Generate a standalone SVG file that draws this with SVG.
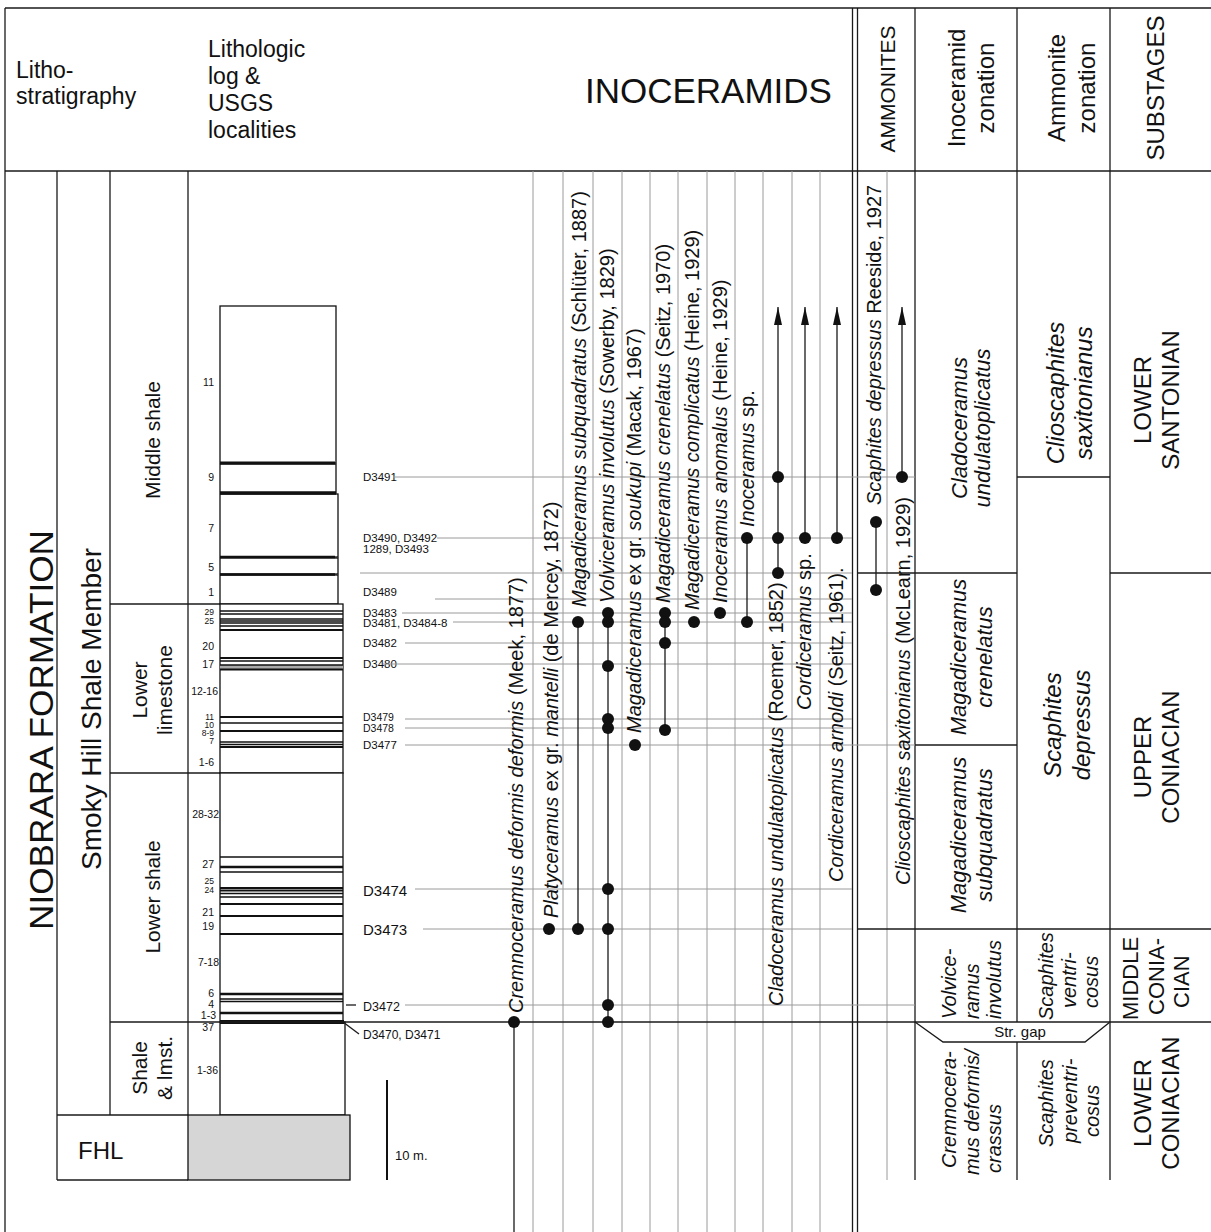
<svg xmlns="http://www.w3.org/2000/svg" width="1211" height="1232" viewBox="0 0 1211 1232">
<style>
.t{font-family:"Liberation Sans",Arial,sans-serif;fill:#111}
.i{font-style:italic}
.g{stroke:#9a9a9a;stroke-width:1;fill:none}
.k{stroke:#1a1a1a;stroke-width:1.3;fill:none}
.b{stroke:#111;fill:none}
.lg{fill:#fff;stroke:#111;stroke-width:1.3}
.d{fill:#111}
.sp{font-size:20px}
.num{font-size:10.5px;text-anchor:end}
.sm{font-size:8.5px}
.loc{font-size:11.5px}
.m{text-anchor:middle}
</style>
<defs>
<marker id="arr" viewBox="0 0 18 8" refX="18" refY="4" markerWidth="18" markerHeight="8" markerUnits="userSpaceOnUse" orient="auto">
<path d="M0,0 L18,4 L0,8 z" fill="#111"/>
</marker>
</defs>
<rect width="1211" height="1232" fill="#fff"/>

<g id="frame">
<line class="k" x1="5" y1="8" x2="1211" y2="8"/>
<line class="k" x1="5" y1="8" x2="5" y2="1232"/>
<line class="k" x1="5" y1="171" x2="1211" y2="171"/>
<line class="k" x1="852.5" y1="8" x2="852.5" y2="1232"/>
<line class="k" x1="857.5" y1="8" x2="857.5" y2="1232"/>
<line class="k" x1="915" y1="8" x2="915" y2="1180"/>
<line class="k" x1="1017" y1="8" x2="1017" y2="1022"/>
<line class="k" x1="1017" y1="1042" x2="1017" y2="1180"/>
<line class="k" x1="1110" y1="8" x2="1110" y2="1180"/>
<line class="k" x1="57" y1="171" x2="57" y2="1180"/>
<line class="k" x1="110" y1="171" x2="110" y2="1115"/>
<line class="k" x1="188" y1="171" x2="188" y2="1115"/>
<line class="k" x1="110" y1="604" x2="220" y2="604"/>
<line class="k" x1="110" y1="773" x2="220" y2="773"/>
<line class="k" x1="57" y1="1115" x2="188" y2="1115"/>
<line class="k" x1="57" y1="1180" x2="188" y2="1180"/>
</g>

<g id="header">
<text class="t" font-size="23" x="16" y="78">Litho-</text>
<text class="t" font-size="23" x="16" y="104">stratigraphy</text>
<text class="t" font-size="23" x="208" y="57">Lithologic</text>
<text class="t" font-size="23" x="208" y="84">log &amp;</text>
<text class="t" font-size="23" x="208" y="111">USGS</text>
<text class="t" font-size="23" x="208" y="138">localities</text>
<text class="t" font-size="35" x="585" y="103">INOCERAMIDS</text>
<text class="t m" font-size="21" transform="translate(895,89) rotate(-90)">AMMONITES</text>
<text class="t m" font-size="24" transform="translate(965,88) rotate(-90)">Inoceramid</text>
<text class="t m" font-size="24" transform="translate(994,88) rotate(-90)">zonation</text>
<text class="t m" font-size="24" transform="translate(1065,88) rotate(-90)">Ammonite</text>
<text class="t m" font-size="24" transform="translate(1095,88) rotate(-90)">zonation</text>
<text class="t m" font-size="24" transform="translate(1164,88) rotate(-90)">SUBSTAGES</text>
</g>

<g id="lithostratigraphy">
<text class="t m" font-size="33" transform="translate(53,730) rotate(-90)" textLength="400" lengthAdjust="spacingAndGlyphs">NIOBRARA FORMATION</text>
<text class="t m" font-size="27" transform="translate(101,709) rotate(-90)" textLength="322" lengthAdjust="spacingAndGlyphs">Smoky Hill Shale Member</text>
<text class="t m" font-size="21" transform="translate(160,440) rotate(-90)">Middle shale</text>
<text class="t m" font-size="21" transform="translate(147,690) rotate(-90)">Lower</text>
<text class="t m" font-size="21" transform="translate(172,690) rotate(-90)">limestone</text>
<text class="t m" font-size="21" transform="translate(160,897) rotate(-90)">Lower shale</text>
<text class="t m" font-size="21" transform="translate(147,1068) rotate(-90)">Shale</text>
<text class="t m" font-size="21" transform="translate(172,1068) rotate(-90)">&amp; lmst.</text>
<text class="t" font-size="24" x="78" y="1159">FHL</text>
</g>

<g id="log">
<rect class="lg" x="220" y="306" width="116" height="157"/>
<rect class="lg" x="220" y="464" width="116" height="29"/>
<rect class="lg" x="220" y="494" width="118" height="63"/>
<rect class="lg" x="220" y="558" width="118" height="16"/>
<rect class="lg" x="220" y="575" width="118" height="29"/>
<line class="b" stroke-width="3" x1="220" y1="463" x2="335" y2="463"/>
<line class="b" stroke-width="3.5" x1="220" y1="493" x2="336" y2="493"/>
<line class="b" stroke-width="2.5" x1="220" y1="557" x2="335" y2="557"/>
<line class="b" stroke-width="2.5" x1="220" y1="574.5" x2="335" y2="574.5"/>

<rect class="lg" x="220" y="604" width="123" height="169"/>
<rect x="220" y="665" width="123" height="4" fill="#aaa"/>
<g class="b" stroke-width="1.5">
<line x1="220" y1="611" x2="343" y2="611"/>
<line x1="220" y1="614" x2="343" y2="614"/>
<line x1="220" y1="619" x2="343" y2="619"/>
<line x1="220" y1="621" x2="343" y2="621"/>
<line x1="220" y1="623" x2="343" y2="623"/>
<line x1="220" y1="626" x2="343" y2="626"/>
<line x1="220" y1="630" x2="343" y2="630" stroke-width="2"/>
<line x1="220" y1="658" x2="343" y2="658" stroke-width="2"/>
<line x1="220" y1="661" x2="343" y2="661"/>
<line x1="220" y1="665" x2="343" y2="665"/>
<line x1="220" y1="669.5" x2="343" y2="669.5" stroke-width="2"/>
<line x1="220" y1="717" x2="343" y2="717" stroke-width="2"/>
<line x1="220" y1="723" x2="343" y2="723"/>
<line x1="220" y1="731" x2="343" y2="731" stroke-width="2"/>
<line x1="220" y1="742" x2="343" y2="742"/>
<line x1="220" y1="744.5" x2="343" y2="744.5"/>
<line x1="220" y1="747" x2="343" y2="747" stroke-width="2"/>
</g>

<rect class="lg" x="220" y="773" width="123" height="249"/>
<g class="b" stroke-width="1.5">
<line x1="220" y1="857" x2="343" y2="857"/>
<line x1="220" y1="867" x2="343" y2="867" stroke-width="2.5"/>
<line x1="220" y1="872" x2="343" y2="872"/>
<line x1="220" y1="888" x2="343" y2="888" stroke-width="2"/>
<line x1="220" y1="890.5" x2="343" y2="890.5" stroke-width="2"/>
<line x1="220" y1="893.5" x2="343" y2="893.5"/>
<line x1="220" y1="897" x2="343" y2="897"/>
<line x1="220" y1="904" x2="343" y2="904" stroke-width="2"/>
<line x1="220" y1="916" x2="343" y2="916" stroke-width="2"/>
<line x1="220" y1="934" x2="343" y2="934" stroke-width="2"/>
<line x1="220" y1="994" x2="343" y2="994" stroke-width="2.5"/>
<line x1="220" y1="999" x2="343" y2="999"/>
<line x1="220" y1="1001.5" x2="343" y2="1001.5"/>
<line x1="220" y1="1013" x2="343" y2="1013" stroke-width="2.5"/>
</g>
<rect class="lg" x="220" y="1022" width="125" height="93"/>
<line class="b" stroke-width="4" x1="220" y1="1022" x2="344" y2="1022"/>
<rect x="188" y="1115" width="162" height="65" fill="#d6d6d6" stroke="#111" stroke-width="1.3"/>

<text class="t num" font-size="12" x="214" y="386">11</text>
<text class="t num" font-size="12" x="214" y="481">9</text>
<text class="t num" font-size="12" x="214" y="532">7</text>
<text class="t num" font-size="12" x="214" y="571">5</text>
<text class="t num" font-size="12" x="214" y="596">1</text>
<text class="t num sm" x="214" y="614.5">29</text>
<text class="t num sm" x="214" y="623.5">25</text>
<text class="t num" x="214" y="650">20</text>
<text class="t num" x="214" y="668">17</text>
<text class="t num" x="218" y="695">12-16</text>
<text class="t num sm" x="214" y="720">11</text>
<text class="t num sm" x="214" y="728">10</text>
<text class="t num sm" x="214" y="736">8-9</text>
<text class="t num sm" x="214" y="744">7</text>
<text class="t num" x="214" y="766">1-6</text>
<text class="t num" x="219" y="818">28-32</text>
<text class="t num" x="214" y="868">27</text>
<text class="t num sm" x="214" y="884">25</text>
<text class="t num sm" x="214" y="893">24</text>
<text class="t num" x="214" y="916">21</text>
<text class="t num" x="214" y="930">19</text>
<text class="t num" font-size="12" x="219" y="966">7-18</text>
<text class="t num" font-size="11" x="214" y="997">6</text>
<text class="t num" font-size="11" x="214" y="1008">4</text>
<text class="t num" font-size="11" x="216" y="1019">1-3</text>
<text class="t num" font-size="11" x="214" y="1031">37</text>
<text class="t num" font-size="12" x="218" y="1074">1-36</text>

<line class="b" stroke-width="2" x1="387" y1="1080" x2="387" y2="1180"/>
<text class="t" font-size="13" x="395" y="1160">10 m.</text>
</g>

<g id="localities">
<text class="t loc" x="363" y="481">D3491</text>
<text class="t loc" x="363" y="542">D3490, D3492</text>
<text class="t loc" x="363" y="553">1289, D3493</text>
<text class="t loc" x="363" y="596">D3489</text>
<text class="t loc" x="363" y="617">D3483</text>
<text class="t loc" x="363" y="627">D3481, D3484-8</text>
<text class="t loc" x="363" y="647">D3482</text>
<text class="t loc" x="363" y="668">D3480</text>
<text class="t" font-size="10.5" x="363" y="721">D3479</text>
<text class="t" font-size="10.5" x="363" y="732">D3478</text>
<text class="t loc" x="363" y="749">D3477</text>
<text class="t" font-size="15" x="363" y="896">D3474</text>
<text class="t" font-size="15" x="363" y="935">D3473</text>
<text class="t" font-size="12.5" x="363" y="1011">D3472</text>
<text class="t" font-size="12" x="363" y="1039">D3470, D3471</text>
</g>

<g id="connectors">
<g class="g">
<line x1="533" y1="171" x2="533" y2="1232"/>
<line x1="563" y1="171" x2="563" y2="1232"/>
<line x1="593" y1="171" x2="593" y2="1232"/>
<line x1="622" y1="171" x2="622" y2="1232"/>
<line x1="650" y1="171" x2="650" y2="1232"/>
<line x1="678" y1="171" x2="678" y2="1232"/>
<line x1="707" y1="171" x2="707" y2="1232"/>
<line x1="735" y1="171" x2="735" y2="1232"/>
<line x1="763" y1="171" x2="763" y2="1232"/>
<line x1="792" y1="171" x2="792" y2="1232"/>
<line x1="820" y1="171" x2="820" y2="1232"/>
<line x1="887" y1="171" x2="887" y2="1180"/>
<line x1="393" y1="477" x2="915" y2="477"/>
<line x1="437" y1="538" x2="852" y2="538"/>
<line x1="360" y1="573" x2="852" y2="573"/>
<line x1="435" y1="599" x2="852" y2="599"/>
<line x1="402" y1="613" x2="852" y2="613"/>
<line x1="453" y1="622" x2="852" y2="622"/>
<line x1="405" y1="643" x2="852" y2="643"/>
<line x1="383" y1="664" x2="852" y2="664"/>
<line x1="405" y1="719" x2="852" y2="719"/>
<line x1="405" y1="728" x2="852" y2="728"/>
<line x1="405" y1="745" x2="915" y2="745"/>
<line x1="415" y1="889" x2="852" y2="889"/>
<line x1="423" y1="929" x2="852" y2="929"/>
<line x1="405" y1="1005" x2="915" y2="1005"/>
</g>
<line class="k" x1="346" y1="1005" x2="356" y2="1005"/>
<line class="k" x1="343" y1="1022" x2="359" y2="1034"/>
<g class="k">
<line x1="858" y1="573" x2="1017" y2="573"/>
<line x1="1110" y1="573" x2="1211" y2="573"/>
<line x1="1017" y1="477" x2="1110" y2="477"/>
<line x1="915" y1="745" x2="1017" y2="745"/>
<line x1="858" y1="929" x2="1211" y2="929"/>
<line x1="110" y1="1022" x2="1211" y2="1022"/>
<polyline points="915,1022 943,1042 1085,1042 1110,1022"/>
</g>
<g class="k">
<line x1="514" y1="1022" x2="514" y2="1232"/>
<line x1="578" y1="622" x2="578" y2="929"/>
<line x1="608" y1="613" x2="608" y2="1022"/>
<line x1="665" y1="613" x2="665" y2="730"/>
<line x1="747" y1="538" x2="747" y2="622"/>
<line x1="778" y1="573" x2="778" y2="307" marker-end="url(#arr)"/>
<line x1="805" y1="538" x2="805" y2="307" marker-end="url(#arr)"/>
<line x1="837" y1="538" x2="837" y2="307" marker-end="url(#arr)"/>
<line x1="876" y1="522" x2="876" y2="590"/>
<line x1="902" y1="477" x2="902" y2="307" marker-end="url(#arr)"/>
</g>
</g>

<g id="dots" class="d">
<circle cx="514" cy="1022" r="6"/>
<circle cx="549" cy="929" r="6"/>
<circle cx="578" cy="622" r="6"/>
<circle cx="578" cy="929" r="6"/>
<circle cx="608" cy="613" r="6"/>
<circle cx="608" cy="622" r="6"/>
<circle cx="608" cy="666" r="6"/>
<circle cx="608" cy="719" r="6"/>
<circle cx="608" cy="728" r="6"/>
<circle cx="608" cy="889" r="6"/>
<circle cx="608" cy="929" r="6"/>
<circle cx="608" cy="1005" r="6"/>
<circle cx="608" cy="1022" r="6"/>
<circle cx="635" cy="745" r="6"/>
<circle cx="665" cy="613" r="6"/>
<circle cx="665" cy="622" r="6"/>
<circle cx="665" cy="643" r="6"/>
<circle cx="665" cy="730" r="6"/>
<circle cx="694" cy="622" r="6"/>
<circle cx="720" cy="613" r="6"/>
<circle cx="747" cy="538" r="6"/>
<circle cx="747" cy="622" r="6"/>
<circle cx="778" cy="477" r="6"/>
<circle cx="778" cy="538" r="6"/>
<circle cx="778" cy="573" r="6"/>
<circle cx="805" cy="538" r="6"/>
<circle cx="837" cy="538" r="6"/>
<circle cx="876" cy="522" r="6"/>
<circle cx="876" cy="590" r="6"/>
<circle cx="902" cy="477" r="6"/>
</g>

<g id="species">
<text class="t sp" transform="translate(523,1013) rotate(-90)"><tspan class="i">Cremnoceramus deformis deformis</tspan> (Meek, 1877)</text>
<text class="t sp" transform="translate(558,918) rotate(-90)"><tspan class="i">Platyceramus</tspan> ex gr. <tspan class="i">mantelli</tspan> (de Mercey, 1872)</text>
<text class="t sp" transform="translate(586,607) rotate(-90)"><tspan class="i">Magadiceramus subquadratus</tspan> (Schlüter, 1887)</text>
<text class="t sp" transform="translate(614,603) rotate(-90)"><tspan class="i">Volviceramus involutus</tspan> (Sowerby, 1829)</text>
<text class="t sp" transform="translate(641,733) rotate(-90)"><tspan class="i">Magadiceramus</tspan> ex gr. <tspan class="i">soukupi</tspan>  (Macak, 1967)</text>
<text class="t sp" transform="translate(670,603) rotate(-90)"><tspan class="i">Magadiceramus crenelatus</tspan>  (Seitz, 1970)</text>
<text class="t sp" transform="translate(699,610) rotate(-90)"><tspan class="i">Magadiceramus complicatus</tspan> (Heine, 1929)</text>
<text class="t sp" transform="translate(727,603) rotate(-90)"><tspan class="i">Inoceramus anomalus</tspan> (Heine, 1929)</text>
<text class="t sp" transform="translate(754,527) rotate(-90)"><tspan class="i">Inoceramus</tspan> sp.</text>
<text class="t sp" transform="translate(783,1006) rotate(-90)"><tspan class="i">Cladoceramus undulatoplicatus</tspan> (Roemer, 1852)</text>
<text class="t sp" transform="translate(811,710) rotate(-90)"><tspan class="i">Cordiceramus</tspan> sp.</text>
<text class="t sp" transform="translate(843,882) rotate(-90)"><tspan class="i">Cordiceramus arnoldi</tspan> (Seitz, 1961).</text>
<text class="t sp" transform="translate(881,505) rotate(-90)"><tspan class="i">Scaphites depressus</tspan> Reeside, 1927</text>
<text class="t sp" transform="translate(910,885) rotate(-90)"><tspan class="i">Clioscaphites saxitonianus</tspan> (McLearn, 1929)</text>
</g>

<g id="zonation">
<g class="t i m" font-size="22">
<text transform="translate(967,428) rotate(-90)">Cladoceramus</text>
<text transform="translate(990,428) rotate(-90)">undulatoplicatus</text>
<text transform="translate(966,657) rotate(-90)">Magadiceramus</text>
<text transform="translate(992,657) rotate(-90)">crenelatus</text>
<text transform="translate(966,835) rotate(-90)">Magadiceramus</text>
<text transform="translate(992,835) rotate(-90)">subquadratus</text>
</g>
<g class="t i" font-size="20">
<text transform="translate(956,1019) rotate(-90)">Volvice-</text>
<text transform="translate(979,1019) rotate(-90)">ramus</text>
<text transform="translate(1001,1019) rotate(-90)">involutus</text>
<text transform="translate(956,1168) rotate(-90)">Cremnocera-</text>
<text transform="translate(979,1175) rotate(-90)">mus deformis/</text>
<text transform="translate(1001,1173) rotate(-90)">crassus</text>
<text transform="translate(1053,1020) rotate(-90)">Scaphites</text>
<text transform="translate(1076,1008) rotate(-90)">ventri-</text>
<text transform="translate(1098,1008) rotate(-90)">cosus</text>
<text transform="translate(1053,1147) rotate(-90)">Scaphites</text>
<text transform="translate(1077,1143) rotate(-90)">preventri-</text>
<text transform="translate(1099,1137) rotate(-90)">cosus</text>
</g>
<g class="t i m" font-size="24">
<text transform="translate(1064,393) rotate(-90)">Clioscaphites</text>
<text transform="translate(1092,393) rotate(-90)">saxitonianus</text>
<text transform="translate(1061,725) rotate(-90)">Scaphites</text>
<text transform="translate(1090,725) rotate(-90)">depressus</text>
</g>
<text class="t m" font-size="15" x="1020" y="1037">Str. gap</text>
<g class="t m" font-size="24">
<text transform="translate(1151,400) rotate(-90)">LOWER</text>
<text transform="translate(1179,400) rotate(-90)">SANTONIAN</text>
<text transform="translate(1151,757) rotate(-90)">UPPER</text>
<text transform="translate(1179,757) rotate(-90)">CONIACIAN</text>
<text transform="translate(1151,1103) rotate(-90)">LOWER</text>
<text transform="translate(1179,1103) rotate(-90)">CONIACIAN</text>
</g>
<g class="t" font-size="22">
<text transform="translate(1138,1020) rotate(-90)">MIDDLE</text>
<text transform="translate(1164,1015) rotate(-90)">CONIA-</text>
<text transform="translate(1189,1008) rotate(-90)">CIAN</text>
</g>
</g>
</svg>
